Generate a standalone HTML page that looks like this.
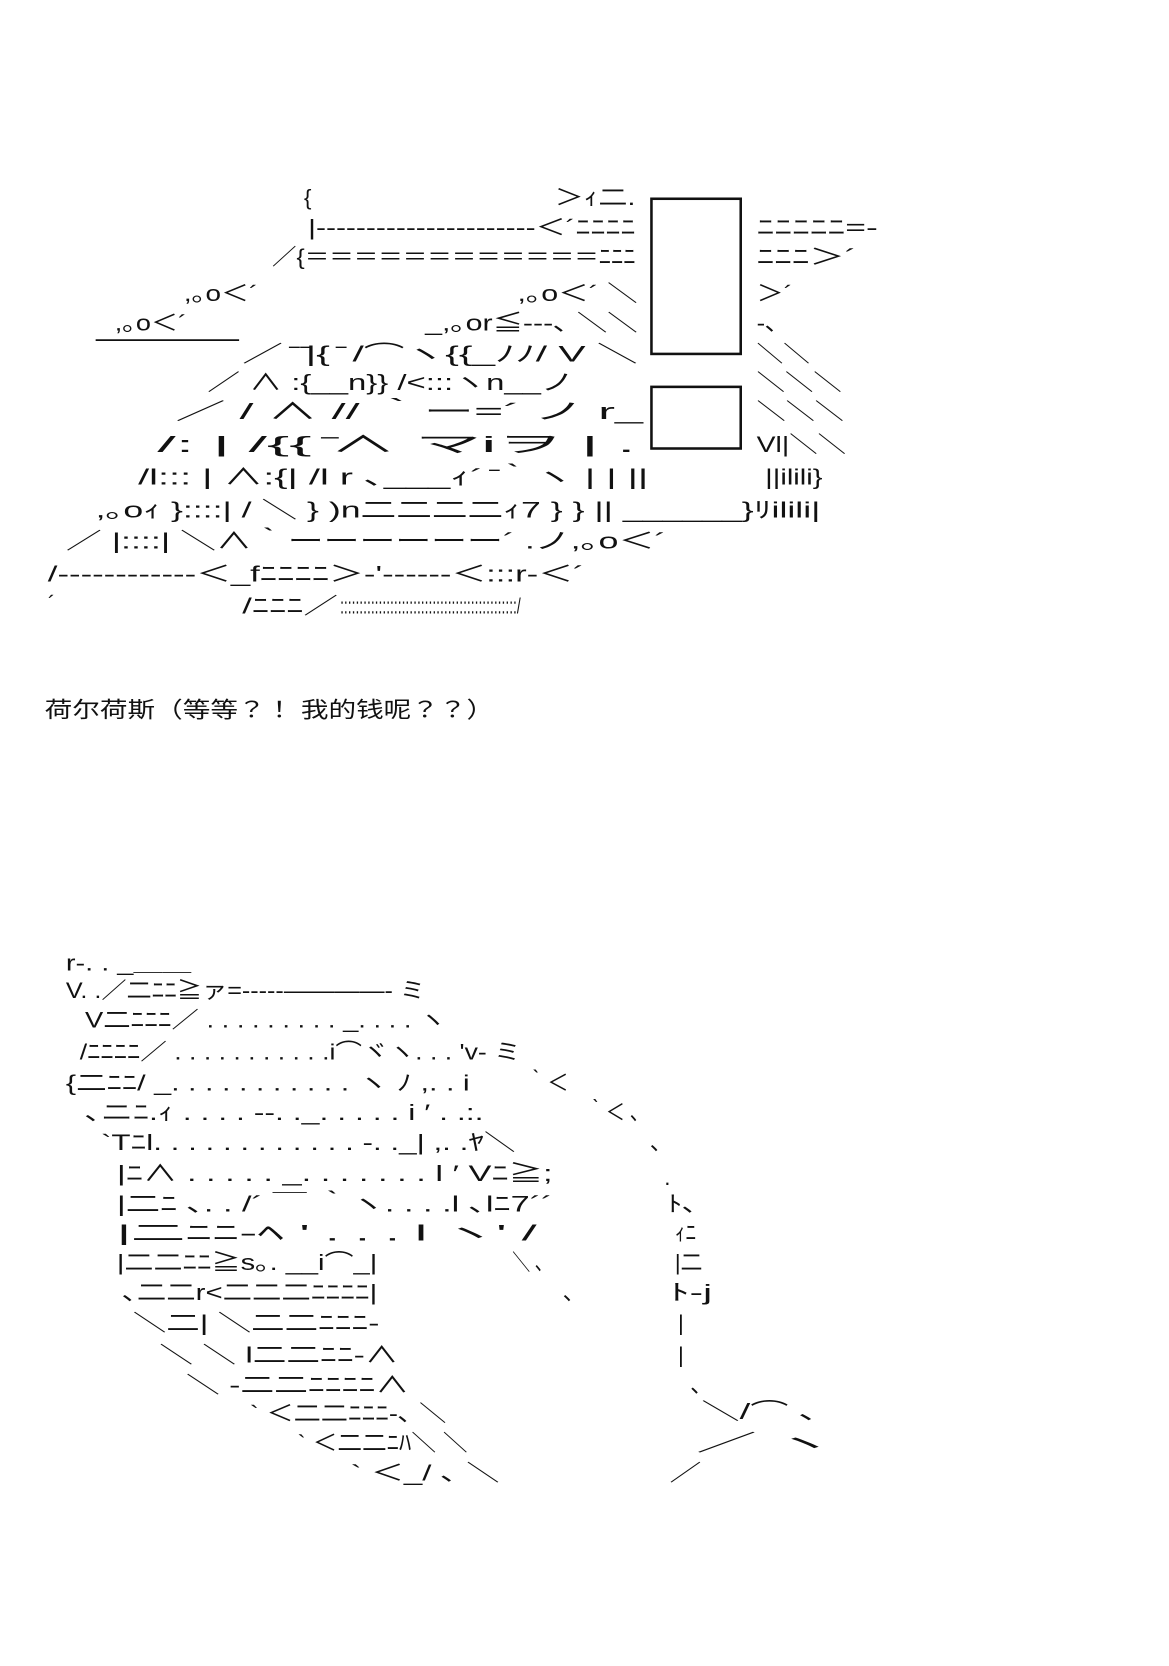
<!DOCTYPE html>
<html><head><meta charset="utf-8"><style>
html,body{margin:0;padding:0;background:#fff;}
svg{display:block;}
text{font-family:"Liberation Sans","Noto Sans CJK JP",sans-serif;fill:#111;dominant-baseline:central;font-size:21px;}
</style></head><body>
<svg width="1169" height="1666" viewBox="0 0 1100 1567.6" xmlns="http://www.w3.org/2000/svg">
<g stroke="#111" stroke-width="2.4" fill="none">
<rect x="613" y="187" width="84" height="146"/>
<rect x="613" y="364" width="84" height="58"/>
<line x1="90" y1="320" x2="225" y2="320" stroke-width="1.6"/>
</g>
<g lengthAdjust="spacingAndGlyphs">
<text x="286" y="186">{</text>
<text x="522" y="186" textLength="76" lengthAdjust="spacingAndGlyphs">＞ｨ二.</text>
<text x="290" y="214" textLength="308" lengthAdjust="spacingAndGlyphs">|‐‐‐‐‐‐‐‐‐‐‐‐‐‐‐‐‐‐‐‐‐‐＜´ﾆﾆﾆﾆ</text>
<text x="712" y="214" textLength="114" lengthAdjust="spacingAndGlyphs">ﾆﾆﾆﾆﾆ=‐</text>
<text x="256" y="242" textLength="342" lengthAdjust="spacingAndGlyphs">／{＝＝＝＝＝＝＝＝＝＝＝＝ﾆﾆﾆ</text>
<text x="712" y="242" textLength="94" lengthAdjust="spacingAndGlyphs">ﾆﾆﾆ＞´</text>
<text x="173" y="276" textLength="70" lengthAdjust="spacingAndGlyphs">,｡o＜´</text>
<text x="487" y="276" textLength="113" lengthAdjust="spacingAndGlyphs">,｡o＜´  ＼</text>
<text x="712" y="276" textLength="34" lengthAdjust="spacingAndGlyphs">＞´</text>
<text x="108" y="304" textLength="68" lengthAdjust="spacingAndGlyphs">,｡o＜´</text>
<text x="400" y="304" textLength="200" lengthAdjust="spacingAndGlyphs">_,｡or≦‐‐‐､   ＼＼</text>
<text x="712" y="304" textLength="20" lengthAdjust="spacingAndGlyphs">‐､</text>
<text x="228" y="333" textLength="372" lengthAdjust="spacingAndGlyphs">／ ̄ ̄|{ ̄ /⌒ヽ{{_ﾉﾉ/      V     ＼</text>
<text x="712" y="333" textLength="50" lengthAdjust="spacingAndGlyphs">＼＼</text>
<text x="195" y="360" textLength="345" lengthAdjust="spacingAndGlyphs">／       ∧ :{__n}} /&lt;:::ヽn__ノ</text>
<text x="712" y="360" textLength="80" lengthAdjust="spacingAndGlyphs">＼＼＼</text>
<text x="165" y="387" textLength="440" lengthAdjust="spacingAndGlyphs">／          / ∧      //       ｀ー=´      ノ r_</text>
<text x="712" y="387" textLength="82" lengthAdjust="spacingAndGlyphs">＼＼＼</text>
<text x="148" y="418" textLength="450" lengthAdjust="spacingAndGlyphs">/: |          /{{ ̄∧      マiヲ                  | .</text>
<text x="712" y="418" textLength="84" lengthAdjust="spacingAndGlyphs">Vl|＼＼</text>
<text x="130" y="449" textLength="480" lengthAdjust="spacingAndGlyphs">/l::: |       ∧:{|       /l   r ､___ｨ´ ̄｀ヽ   |   | ||</text>
<text x="720" y="449" textLength="54" lengthAdjust="spacingAndGlyphs">||ilili}</text>
<text x="90" y="480" textLength="682" lengthAdjust="spacingAndGlyphs">,｡oｨ }::::|      /     ＼      }  )n二二二二ｨ7   }  } ||   ______}ﾘilili|</text>
<text x="62" y="509" textLength="565" lengthAdjust="spacingAndGlyphs">／          |::::|               ＼∧｀ーーーーーー´    .ノ,｡o＜´</text>
<text x="45" y="540" textLength="505" lengthAdjust="spacingAndGlyphs">/‐‐‐‐‐‐‐‐‐‐‐‐＜_fﾆﾆﾆﾆ＞‐'‐‐‐‐‐‐＜:::r‐＜´</text>
<text x="45" y="568">´</text>
<text x="228" y="570" textLength="90" lengthAdjust="spacingAndGlyphs">/ﾆﾆﾆ／</text>
<text x="320" y="570" textLength="170" lengthAdjust="spacingAndGlyphs" font-size="14">::::::::::::::::::::::::::::::::::::::::::::::/</text>

<text x="42" y="668" font-size="22.5" textLength="423" lengthAdjust="spacingAndGlyphs">荷尔荷斯（等等？！ 我的钱呢？？）</text>

<text x="62" y="906" textLength="118" lengthAdjust="spacingAndGlyphs">r‐. .   _＿＿</text>
<text x="62" y="932" textLength="338" lengthAdjust="spacingAndGlyphs">V. .／二ﾆﾆ≧ァ=‐‐‐‐‐――――‐ ミ</text>
<text x="80" y="960" textLength="340" lengthAdjust="spacingAndGlyphs">V二ﾆﾆﾆ／   . . . . . . . . . _. . . .    ヽ</text>
<text x="75" y="990" textLength="415" lengthAdjust="spacingAndGlyphs">/ﾆﾆﾆﾆ／ . . . . . . . . . . .i⌒ヾヽ. . . 'v‐ ミ</text>
<text x="62" y="1019" textLength="380" lengthAdjust="spacingAndGlyphs">{二ﾆﾆ/  _. . . . . . . . . . .  ヽ   ﾉ     ,. . i</text>
<text x="495" y="1019" textLength="40" lengthAdjust="spacingAndGlyphs">｀＜</text>
<text x="80" y="1047" textLength="375" lengthAdjust="spacingAndGlyphs">､ニﾆ.ｨ . . . .  ‐‐. ._. . . . . i         ′  . .:.</text>
<text x="552" y="1047" textLength="50" lengthAdjust="spacingAndGlyphs">｀＜ ､</text>
<text x="95" y="1075" textLength="390" lengthAdjust="spacingAndGlyphs">`Tﾆl. . . . . . . . . . . .  ‐. ._|        ,. .ﾔ＼</text>
<text x="612" y="1075">､</text>
<text x="110" y="1104" textLength="410" lengthAdjust="spacingAndGlyphs">|ﾆ∧ . . . . . _. . . . . . . l         ′  Vﾆ≧;</text>
<text x="625" y="1108">.</text>
<text x="110" y="1133" textLength="410" lengthAdjust="spacingAndGlyphs">|二ﾆ ､. . /´  ￣  ｀ヽ. . . .l          ､lﾆ7´´</text>
<text x="628" y="1133" textLength="28" lengthAdjust="spacingAndGlyphs">ﾄ､</text>
<text x="110" y="1160" textLength="395" lengthAdjust="spacingAndGlyphs">|二ﾆﾆ‐ﾍ          ' . . . l           ヽ' /</text>
<text x="635" y="1160" textLength="20" lengthAdjust="spacingAndGlyphs">ｨﾆ</text>
<text x="110" y="1188" textLength="245" lengthAdjust="spacingAndGlyphs">|二二ﾆﾆ≧s｡. __i⌒_|</text>
<text x="482" y="1188" textLength="30" lengthAdjust="spacingAndGlyphs">＼ ､</text>
<text x="635" y="1188" textLength="26" lengthAdjust="spacingAndGlyphs">|二</text>
<text x="115" y="1216" textLength="240" lengthAdjust="spacingAndGlyphs">､二二r&lt;二二二ﾆﾆﾆﾆ|</text>
<text x="530" y="1216">､</text>
<text x="630" y="1216" textLength="40" lengthAdjust="spacingAndGlyphs">ﾄ‐j</text>
<text x="125" y="1245" textLength="232" lengthAdjust="spacingAndGlyphs">＼二|   ＼二二ﾆﾆﾆ‐</text>
<text x="638" y="1245">|</text>
<text x="150" y="1275" textLength="225" lengthAdjust="spacingAndGlyphs">＼ ＼   l二二ﾆﾆ‐∧</text>
<text x="638" y="1275">|</text>
<text x="175" y="1303" textLength="210" lengthAdjust="spacingAndGlyphs">＼  ‐二二ﾆﾆﾆﾆ∧</text>
<text x="650" y="1303">､</text>
<text x="235" y="1330" textLength="185" lengthAdjust="spacingAndGlyphs">` ＜二二ﾆﾆﾆ‐､    ＼</text>
<text x="660" y="1328" textLength="110" lengthAdjust="spacingAndGlyphs">＼/⌒ ､</text>
<text x="280" y="1358" textLength="160" lengthAdjust="spacingAndGlyphs">` ＜二二ﾆﾊ＼   ＼</text>
<text x="655" y="1358" textLength="130" lengthAdjust="spacingAndGlyphs">／         ヽ</text>
<text x="330" y="1386" textLength="140" lengthAdjust="spacingAndGlyphs">` ＜_/   ､    ＼</text>
<text x="630" y="1386" textLength="30" lengthAdjust="spacingAndGlyphs">／</text>
</g>
</svg>
</body></html>
